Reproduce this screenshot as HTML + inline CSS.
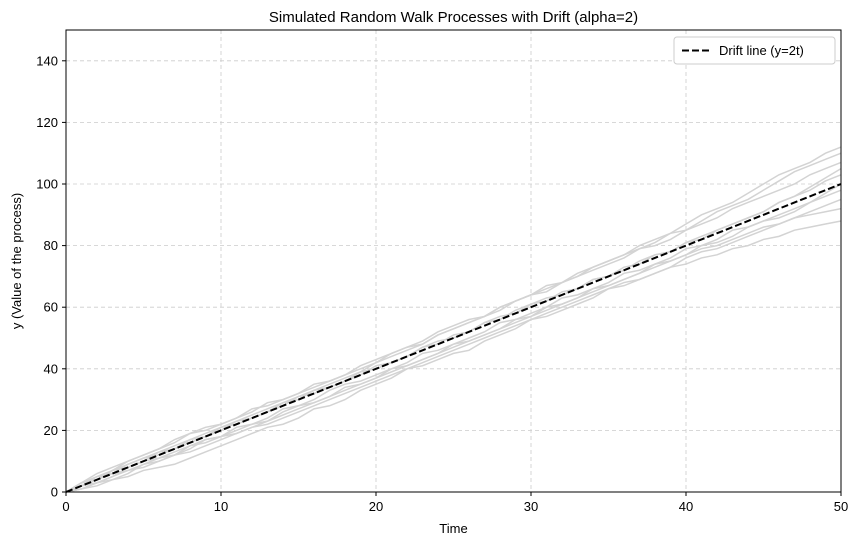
<!DOCTYPE html>
<html><head><meta charset="utf-8"><style>
body{margin:0;background:#fff;font-family:"Liberation Sans","DejaVu Sans",sans-serif;}
svg text{font-family:"Liberation Sans","DejaVu Sans",sans-serif;fill:#000;}
</style></head><body>
<svg id="chart" width="859" height="545" xmlns="http://www.w3.org/2000/svg">
<text x="453.5" y="22" font-size="15" text-anchor="middle">Simulated Random Walk Processes with Drift (alpha=2)</text>
<g id="grid"></g>
<g id="walks"></g>
<g id="drift"></g>
<rect x="66" y="30" width="775" height="462" fill="none" stroke="#000" stroke-width="1"/>
<g id="axes"></g>
<text x="453.5" y="533" font-size="13" text-anchor="middle">Time</text>
<text transform="translate(21,261) rotate(-90)" font-size="13" text-anchor="middle">y (Value of the process)</text>
<g>
<rect x="674" y="37" width="161" height="27" rx="3" fill="#fff" stroke="#ccc"/>
<line x1="682" y1="50.5" x2="710" y2="50.5" stroke="#000" stroke-width="2" stroke-dasharray="7,3"/>
<text x="719" y="55" font-size="13">Drift line (y=2t)</text>
</g>
</svg>
<script>
const xTicks=[0,10,20,30,40,50];
const yTicks=[0,20,40,60,80,100,120,140];
const alpha=2;
const walk1=[0,3,5,6,9,11,13,15,17,19,21,23,25,27,29,31,33,35,37,39,42,44,46,48,51,53,55,57,60,62,64,66,68,71,73,75,77,80,82,84,87,90,92,94,97,100,103,105,107,110,112];
const walk2=[0,1,3,5,7,8,10,12,13,15,17,19,21,22,24,26,28,30,32,34,36,38,40,42,44,46,48,50,52,54,56,58,60,62,64,66,68,69,71,73,74,76,77,79,80,82,83,85,86,87,88];
const walk3=[0,2,4,7,8,10,13,14,17,18,20,23,24,26,29,30,33,34,36,38,41,42,44,47,48,51,52,55,56,59,61,62,65,66,69,70,73,74,77,78,81,83,85,87,89,91,94,96,99,102,105];
const walk4=[0,2,3,5,8,10,11,12,15,17,18,21,22,24,27,28,30,33,35,36,38,40,42,45,46,48,50,52,55,56,58,60,63,64,66,68,71,72,74,76,79,80,82,85,86,88,90,92,94,96,98];
const walk5=[0,3,4,7,10,12,14,16,19,21,22,24,26,29,30,32,34,36,38,41,43,45,47,49,52,54,56,57,60,62,64,67,68,70,73,75,77,79,81,84,85,88,91,93,95,98,101,104,106,108,110];
const walk6=[0,1,2,4,5,7,8,9,11,13,15,17,19,21,22,24,27,28,30,33,35,37,40,41,43,45,46,49,51,53,56,57,59,61,63,66,67,69,71,73,76,78,79,81,83,85,87,89,91,93,95];
const walk7=[0,2,5,7,9,11,12,14,16,18,21,22,24,26,28,31,32,34,36,39,40,42,44,47,49,50,52,55,57,58,61,63,64,66,69,70,72,75,77,78,81,82,85,87,89,91,94,96,98,101,103];
const walk8=[0,2,4,6,7,9,11,13,15,16,18,19,21,23,25,27,29,31,33,35,37,39,41,43,45,47,49,51,53,55,57,59,61,63,65,67,69,71,73,75,77,79,80,82,84,86,87,89,90,91,92];
const walk9=[0,3,6,8,10,12,14,17,19,20,22,24,27,28,30,32,35,36,38,40,42,45,47,48,51,53,55,57,59,62,64,65,68,70,72,74,76,79,80,82,85,87,89,92,94,96,98,100,103,105,107];
const walk10=[0,1,3,4,6,9,10,12,14,17,18,20,22,23,26,28,29,31,34,35,37,40,41,43,45,48,49,51,53,56,57,60,61,63,66,67,69,71,74,75,77,80,81,83,86,88,89,91,94,97,100];
const walks=[walk1,walk2,walk3,walk4,walk5,walk6,walk7,walk8,walk9,walk10];
const NS="http://www.w3.org/2000/svg";
const X=v=>66+v/50*775, Y=v=>492-v/150*462;
function mk(tag,attrs,parent){const e=document.createElementNS(NS,tag);for(const k in attrs)e.setAttribute(k,attrs[k]);parent.appendChild(e);return e;}
const grid=document.getElementById('grid'),axes=document.getElementById('axes');
xTicks.forEach(t=>{
 const g=mk('line',{x1:X(t),x2:X(t),y1:30,y2:492,stroke:'#ccc','stroke-dasharray':'4,3','stroke-width':0.8},grid);
 
 const tk=mk('line',{x1:X(t),x2:X(t),y1:492,y2:496,stroke:'#000'},axes);
 
 const tx=mk('text',{x:X(t),y:511,'font-size':13,'text-anchor':'middle'},axes);tx.textContent=t;
 
});
yTicks.forEach(t=>{
 const g=mk('line',{x1:66,x2:841,y1:Y(t),y2:Y(t),stroke:'#ccc','stroke-dasharray':'4,3','stroke-width':0.8},grid);
 
 const tk=mk('line',{x1:62,x2:66,y1:Y(t),y2:Y(t),stroke:'#000'},axes);
 
 const tx=mk('text',{x:58,y:Y(t)+4.5,'font-size':13,'text-anchor':'end'},axes);tx.textContent=t;
 
});
const wg=document.getElementById('walks');
walks.forEach(w=>{
 const p=mk('polyline',{points:w.map((v,i)=>X(i)+','+Y(v)).join(' '),fill:'none',stroke:'#d3d3d3','stroke-width':1.5},wg);
 
});
const d=mk('line',{x1:X(0),y1:Y(0),x2:X(50),y2:Y(alpha*50),stroke:'#000','stroke-width':2,'stroke-dasharray':'7,3'},document.getElementById('drift'));

</script>
</body></html>
